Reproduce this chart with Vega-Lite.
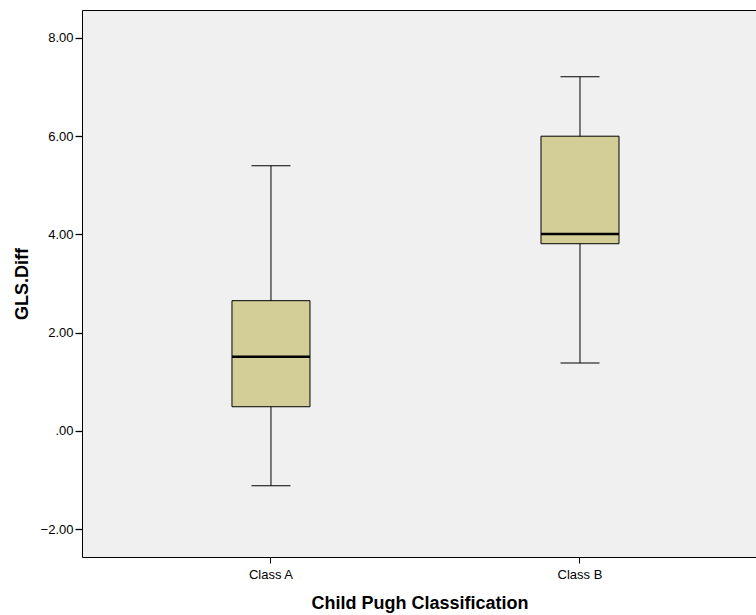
{
  "$schema": "https://vega.github.io/schema/vega-lite/v6.json",
  "autosize": {"type": "none"},
  "padding": {"left": 82, "top": 10, "right": 0, "bottom": 58},
  "width": 675,
  "height": 547,
  "background": "white",
  "config": {
    "font": "Liberation Sans",
    "view": {"fill": "#f0f0f0", "stroke": "black", "strokeWidth": 1}
  },
  "data": {
    "values": [
      {"cls": "Class A", "min": -1.12, "q1": 0.49, "median": 1.51, "q3": 2.65, "max": 5.4},
      {"cls": "Class B", "min": 1.38, "q1": 3.81, "median": 4.01, "q3": 6.0, "max": 7.21}
    ]
  },
  "encoding": {
    "x": {
      "field": "cls",
      "type": "nominal",
      "scale": {"paddingInner": 0, "paddingOuter": 0.0922, "align": 0.605},
      "axis": {
        "title": "Child Pugh Classification",
        "titleFontSize": 18,
        "titleFontWeight": "bold",
        "titleColor": "black",
        "titlePadding": 13,
        "labelAngle": 0,
        "labelFontSize": 13,
        "labelColor": "black",
        "labelPadding": 5,
        "tickColor": "black",
        "tickSize": 6,
        "domain": false
      }
    }
  },
  "layer": [
    {
      "mark": {"type": "rule", "color": "black", "strokeWidth": 1},
      "encoding": {
        "y": {
          "field": "min",
          "type": "quantitative",
          "scale": {"domain": [-2.57, 8.57], "nice": false, "zero": false},
          "axis": {
            "title": "GLS.Diff",
            "titleFontSize": 18,
            "titleFontWeight": "bold",
            "titleColor": "black",
            "titlePadding": 9,
            "values": [-2, 0, 2, 4, 6, 8],
            "labelExpr": "datum.value == 0 ? '.00' : format(datum.value, '.2f')",
            "labelFontSize": 13,
            "labelColor": "black",
            "labelPadding": 2,
            "tickColor": "black",
            "tickSize": 7,
            "tickWidth": 1.3,
            "domain": false,
            "grid": false
          }
        },
        "y2": {"field": "max"}
      }
    },
    {
      "mark": {"type": "bar", "size": 78, "fill": "#d3ce97", "stroke": "black", "strokeWidth": 1},
      "encoding": {
        "y": {"field": "q1", "type": "quantitative"},
        "y2": {"field": "q3"}
      }
    },
    {
      "mark": {"type": "tick", "size": 78, "thickness": 2.5, "color": "black", "opacity": 1},
      "encoding": {"y": {"field": "median", "type": "quantitative"}}
    },
    {
      "mark": {"type": "tick", "size": 39, "thickness": 1, "color": "black", "opacity": 1},
      "encoding": {"y": {"field": "min", "type": "quantitative"}}
    },
    {
      "mark": {"type": "tick", "size": 39, "thickness": 1, "color": "black", "opacity": 1},
      "encoding": {"y": {"field": "max", "type": "quantitative"}}
    }
  ]
}
